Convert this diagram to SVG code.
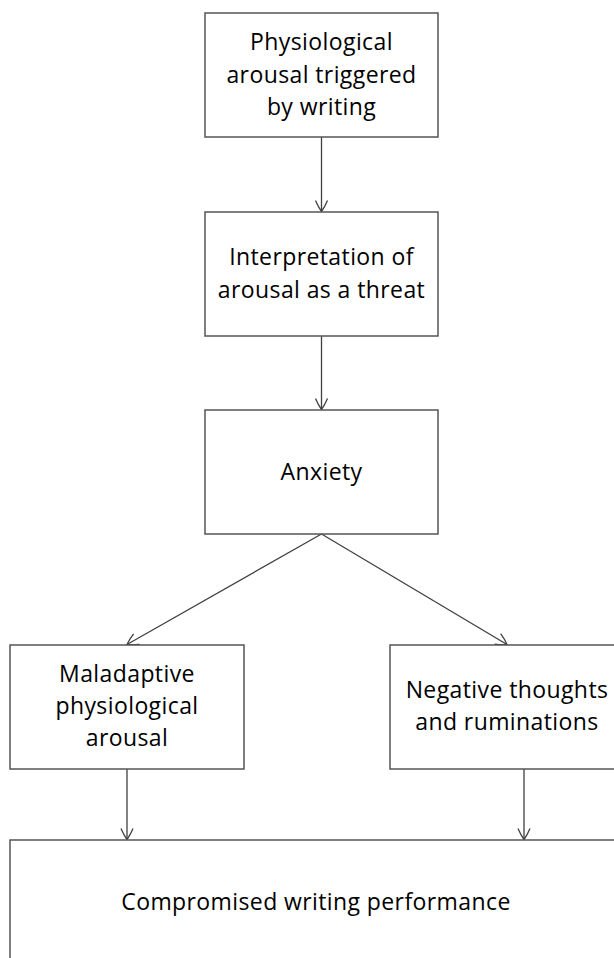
<svg xmlns="http://www.w3.org/2000/svg" width="614" height="958" viewBox="0 0 614 958">
  <style>
    .box { fill: #ffffff; stroke: #555555; stroke-width: 1.5; }
    .label { font-family: "Open Sans", "Liberation Sans", sans-serif; font-size: 23px; letter-spacing: 0.4px; fill: #000000; text-anchor: middle; }
    .edge { stroke: #404040; stroke-width: 1.3; fill: none; marker-end: url(#arrow); }
  </style>
  <defs>
    <marker id="arrow" markerUnits="userSpaceOnUse" markerWidth="14" markerHeight="14" viewBox="-12 -7 14 14" refX="0" refY="0" orient="auto">
      <path d="M -11,-6 Q -4,-3 0,0 Q -4,3 -11,6" fill="none" stroke="#404040" stroke-width="1.3"/>
    </marker>
  </defs>
  <rect width="614" height="958" fill="#ffffff"/>

  <g id="connectors">
    <line class="edge" x1="321.5" y1="137" x2="321.5" y2="211.5"/>
    <line class="edge" x1="321.5" y1="336" x2="321.5" y2="409.5"/>
    <line class="edge" x1="321.5" y1="534" x2="127" y2="644.5"/>
    <line class="edge" x1="321.5" y1="534" x2="507" y2="644.5"/>
    <line class="edge" x1="127" y1="769" x2="127" y2="839.5"/>
    <line class="edge" x1="524" y1="769" x2="524" y2="839.5"/>
  </g>

  <g id="node-arousal">
    <rect class="box" x="205" y="13" width="233" height="124"/>
    <text class="label" x="321.5" y="50">Physiological</text>
    <text class="label" x="321.5" y="82.5">arousal triggered</text>
    <text class="label" x="321.5" y="115">by writing</text>
  </g>

  <g id="node-interpretation">
    <rect class="box" x="205" y="212" width="233" height="124"/>
    <text class="label" x="321.5" y="265">Interpretation of</text>
    <text class="label" x="321.5" y="298">arousal as a threat</text>
  </g>

  <g id="node-anxiety">
    <rect class="box" x="205" y="410" width="233" height="124"/>
    <text class="label" x="321.5" y="480">Anxiety</text>
  </g>

  <g id="node-maladaptive">
    <rect class="box" x="10" y="645" width="234" height="124"/>
    <text class="label" x="127" y="682">Maladaptive</text>
    <text class="label" x="127" y="714">physiological</text>
    <text class="label" x="127" y="746">arousal</text>
  </g>

  <g id="node-negative">
    <rect class="box" x="390" y="645" width="234" height="124"/>
    <text class="label" x="507" y="698">Negative thoughts</text>
    <text class="label" x="507" y="730">and ruminations</text>
  </g>

  <g id="node-performance">
    <rect class="box" x="10" y="840" width="612" height="130"/>
    <text class="label" x="316" y="910">Compromised writing performance</text>
  </g>
</svg>
